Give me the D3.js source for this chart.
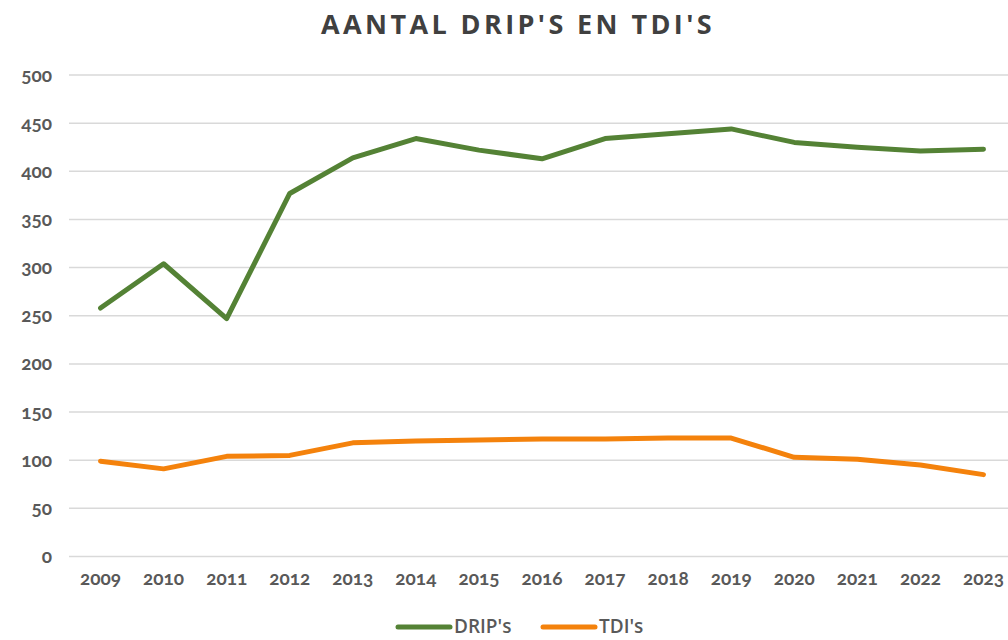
<!DOCTYPE html>
<html>
<head>
<meta charset="utf-8">
<script src="https://cdn.jsdelivr.net/npm/d3@7"></script>
<style>
  html, body { margin: 0; padding: 0; background: #fff; }
  svg { display: block; }
  .tick text { font-family: Lato, "Open Sans", sans-serif; font-weight: 700; fill: #595959; font-feature-settings: "onum" 1; }
</style>
</head>
<body>
<script>
// Yearly counts of DRIP's and TDI's
const years = ["2009","2010","2011","2012","2013","2014","2015","2016","2017","2018","2019","2020","2021","2022","2023"];
const dripValues = [258, 304, 247, 377, 414, 434, 422, 413, 434, 439, 444, 430, 425, 421, 423];
const tdiValues  = [99, 91, 104, 105, 118, 120, 121, 122, 122, 123, 123, 103, 101, 95, 85];
const yTicks = [0, 50, 100, 150, 200, 250, 300, 350, 400, 450, 500];
const seriesNames = ["DRIP's", "TDI's"];
const seriesColors = ["#548235", "#F4820C"];

const width = 1008, height = 640;
const plot = { left: 69, right: 1015, top: 75, bottom: 556.5 };

const svg = d3.select("body").append("svg")
  .attr("width", width).attr("height", height);

const x = d3.scaleBand().domain(years).range([plot.left, plot.right]);
const y = d3.scaleLinear().domain([0, 500]).range([plot.bottom, plot.top]);

// Title
svg.append("text")
  .attr("x", 518).attr("y", 34)
  .attr("text-anchor", "middle")
  .style("font-family", "'Open Sans', sans-serif")
  .style("font-weight", 700)
  .style("font-size", "27px")
  .style("letter-spacing", "3.4px")
  .style("fill", "#404040")
  .text("AANTAL DRIP'S EN TDI'S");

// Horizontal gridlines
svg.append("g")
  .selectAll("line")
  .data(yTicks)
  .join("line")
  .attr("x1", plot.left).attr("x2", plot.right)
  .attr("y1", d => y(d)).attr("y2", d => y(d))
  .attr("stroke", "#d9d9d9").attr("stroke-width", 1.5);

// Y axis labels
const yAxis = svg.append("g")
  .attr("transform", `translate(${plot.left - 17},0)`)
  .call(d3.axisLeft(y).tickValues(yTicks).tickSize(0).tickPadding(0));
yAxis.select(".domain").remove();
yAxis.selectAll("text").style("font-size", "19px");

// X axis labels
const xAxis = svg.append("g")
  .attr("transform", `translate(0,${plot.bottom + 13})`)
  .call(d3.axisBottom(x).tickSize(0).tickPadding(0));
xAxis.select(".domain").remove();
xAxis.selectAll("text").style("font-size", "19px").attr("dy", "0.8em");

// Series lines
const line = d3.line()
  .x((d, i) => x(years[i]) + x.bandwidth() / 2)
  .y(d => y(d));

[dripValues, tdiValues].forEach((vals, k) => {
  svg.append("path")
    .datum(vals)
    .attr("d", line)
    .attr("fill", "none")
    .attr("stroke", seriesColors[k])
    .attr("stroke-width", 5)
    .attr("stroke-linejoin", "round")
    .attr("stroke-linecap", "round");
});

// Legend
const legendItems = [
  { name: seriesNames[0], color: seriesColors[0], x: 398 },
  { name: seriesNames[1], color: seriesColors[1], x: 543 }
];
const lg = svg.append("g");
legendItems.forEach(item => {
  lg.append("line")
    .attr("x1", item.x).attr("x2", item.x + 52)
    .attr("y1", 627).attr("y2", 627)
    .attr("stroke", item.color).attr("stroke-width", 5)
    .attr("stroke-linecap", "round");
  lg.append("text")
    .attr("x", item.x + 56).attr("y", 633)
    .style("font-family", "'Open Sans', sans-serif")
    .style("font-weight", 600)
    .style("font-size", "19px")
    .style("fill", "#595959")
    .text(item.name);
});
</script>
</body>
</html>
